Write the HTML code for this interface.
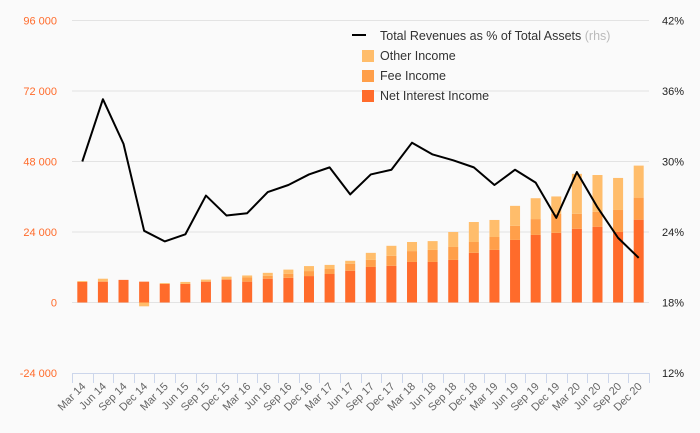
<!DOCTYPE html>
<html><head><meta charset="utf-8"><style>
body{margin:0;background:#fafafa;}
svg{display:block;font-family:"Liberation Sans",sans-serif;}
</style></head><body>
<svg id="chart" width="700" height="433">
<rect width="700" height="433" fill="#fafafa"/>
<g id="grid"></g><g id="bars"></g><g id="line"></g><g id="axes"></g>
<g id="legend">
 <g><line x1="352" y1="35" x2="366" y2="35" stroke="#000" stroke-width="2"/><text x="380" y="40" font-size="12.5" fill="#333">Total Revenues as % of Total Assets <tspan fill="#bbb">(rhs)</tspan></text></g>
 <g><rect x="362" y="50" width="12" height="12" fill="#ffbd6b"/><text x="380" y="60" font-size="12.5" fill="#333">Other Income</text></g>
 <g><rect x="362" y="70" width="12" height="12" fill="#ff9f4a"/><text x="380" y="80" font-size="12.5" fill="#333">Fee Income</text></g>
 <g><rect x="362" y="90" width="12" height="12" fill="#ff6b2b"/><text x="380" y="100" font-size="12.5" fill="#333">Net Interest Income</text></g>
</g>
</svg>
<script>
const categories=["Mar 14","Jun 14","Sep 14","Dec 14","Mar 15","Jun 15","Sep 15","Dec 15","Mar 16","Jun 16","Sep 16","Dec 16","Mar 17","Jun 17","Sep 17","Dec 17","Mar 18","Jun 18","Sep 18","Dec 18","Mar 19","Jun 19","Sep 19","Dec 19","Mar 20","Jun 20","Sep 20","Dec 20"];
const netInterest=[7000,7100,7700,7100,6300,6300,7100,7800,7100,8100,8400,9000,9700,10800,12100,12500,13800,13800,14500,16900,17900,21300,23000,23700,25100,25800,24000,28200];
const feeIncome=[0,0,0,0,0,0,0,0,1400,1000,1400,1700,1700,2400,2400,3400,3700,4100,4400,3700,4400,4800,5400,6500,5100,5100,7500,7500];
const otherIncome=[300,1000,0,-1300,300,700,700,1000,700,1000,1400,1700,1400,1000,2400,3400,3100,3000,5100,6800,5800,6800,7100,5900,13600,12500,10900,10900];
const revenueRatio=[30.0,35.3,31.5,24.1,23.2,23.8,27.1,25.4,25.6,27.4,28.0,28.9,29.5,27.2,28.9,29.3,31.6,30.6,30.1,29.5,28.0,29.3,28.2,25.2,29.1,26.1,23.5,21.8];
const leftTicks=[-24000,0,24000,48000,72000,96000];
const rightTicks=[12,18,24,30,36,42];

const NS="http://www.w3.org/2000/svg";
const L=72,R=649,T=20,B=373;
const band=(R-L)/categories.length;
const yL=v=>302.5-v*(70.5/24000);
const yR=p=>302.5-(p-18)*(70.5/6);
const xC=i=>L+band*(i+0.5);
function mk(tag,attrs,parent){const e=document.createElementNS(NS,tag);for(const k in attrs)e.setAttribute(k,attrs[k]);parent.appendChild(e);return e;}
const grid=document.getElementById('grid'),bars=document.getElementById('bars'),line=document.getElementById('line'),axes=document.getElementById('axes');
leftTicks.forEach((v,i)=>{
 const y=yL(v);
 if(v!==-24000){const g=mk('line',{x1:L,x2:R,y1:y,y2:y,stroke:'#e3e3e3','stroke-width':1},grid);
 
 }
 const t=mk('text',{x:57,y:y+4,'text-anchor':'end','font-size':11,fill:'#ff6b2b'},axes);
 t.textContent=v.toLocaleString('en-US').replace(/,/g,' ');
 
 
});
rightTicks.forEach(p=>{
 const t=mk('text',{x:684,y:yR(p)+4,'text-anchor':'end','font-size':11,fill:'#222'},axes);
 t.textContent=p+'%';
 
 
});
const ax=mk('line',{x1:L,x2:R,y1:B+0.5,y2:B+0.5,stroke:'#ccd6eb'},axes);


for(let i=0;i<=categories.length;i++){
 const x=Math.round(L+band*i)+0.5;
 const tk=mk('line',{x1:x,x2:x,y1:B,y2:B+10,stroke:'#ccd6eb'},axes);
 
 
}
categories.forEach((c,i)=>{
 const x=xC(i)+4,y=B+14;
 const t=mk('text',{x:x,y:y,'text-anchor':'end','font-size':11,fill:'#666',transform:`rotate(-45 ${x} ${y})`},axes);
 t.textContent=c;
 
 
});
const bw=10;
categories.forEach((c,i)=>{
 const x=xC(i)-bw/2;
 let pos=0,neg=0;
 [[netInterest[i],'#ff6b2b','net-interest'],[feeIncome[i],'#ff9f4a','fee-income'],[otherIncome[i],'#ffbd6b','other-income']].forEach(([v,col,nm])=>{
  if(v===0)return;
  let y0,y1;
  if(v>0){y0=yL(pos+v);y1=yL(pos);pos+=v;}else{y0=yL(neg);y1=yL(neg+v);neg+=v;}
  const r=mk('rect',{x:x,y:y0,width:bw,height:y1-y0,fill:col},bars);
  
  
 });
});
const pl=mk('polyline',{points:revenueRatio.map((p,i)=>xC(i)+','+yR(p)).join(' '),fill:'none',stroke:'#000','stroke-width':2,'stroke-linejoin':'round'},line);


</script>
</body></html>
